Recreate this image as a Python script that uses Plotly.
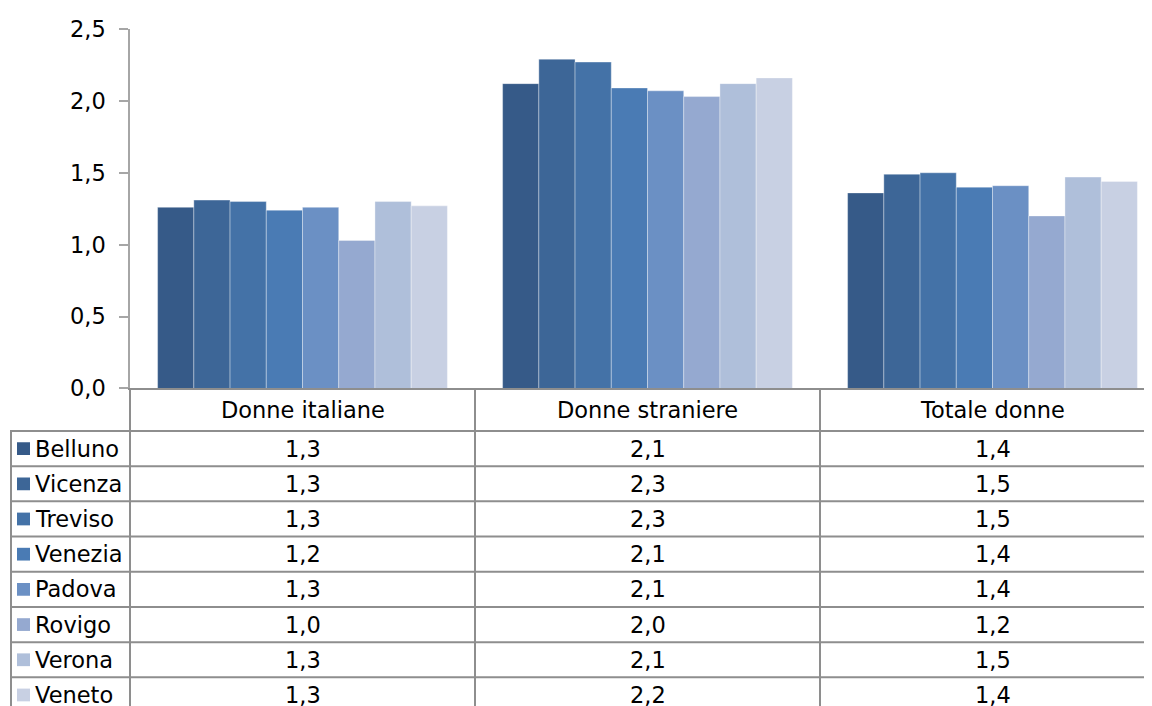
import plotly.graph_objects as go

categories = ['Donne italiane', 'Donne straniere', 'Totale donne']
provinces = ['Belluno', 'Vicenza', 'Treviso', 'Venezia', 'Padova', 'Rovigo', 'Verona', 'Veneto']

belluno = [1.26, 2.12, 1.36]
vicenza = [1.31, 2.29, 1.49]
treviso = [1.30, 2.27, 1.50]
venezia = [1.24, 2.09, 1.40]
padova = [1.26, 2.07, 1.41]
rovigo = [1.03, 2.03, 1.20]
verona = [1.30, 2.12, 1.47]
veneto = [1.27, 2.16, 1.44]
series = [belluno, vicenza, treviso, venezia, padova, rovigo, verona, veneto]

colors = ['#365A88', '#3D6697', '#4472A7', '#4A7BB4', '#6B90C4',
          '#95A9D0', '#AFBFDA', '#C8D0E3']

# page has an 8px body margin; the snapshot squeezes the page slightly in height
OFF = 8
S = 0.9806


def fx(x):
    return x - OFF


def fy(y):
    return y / S - OFF


W = 1152 - OFF
H = round(706 / S) - OFF
TOP = fy(28)
AXIS_Y = fy(387.5)      # category axis line
PLOT_L = fx(130)        # value axis
CAT_W = 345             # width of one category column
HEADER_H = 42.5 / S
ROW_H = 35.2 / S
SQ = 13
GRID = '#8E8E8E'
FONT = 'DejaVu Sans'
FS = 22.5

split = (H - AXIS_Y) / (H - TOP)
table_h = H - AXIS_Y
x_max = -0.5 + (W - PLOT_L) / CAT_W


def fmt(v):
    return f'{v:.1f}'.replace('.', ',')


fig = go.Figure()
for name, vals, col in zip(provinces, series, colors):
    fig.add_trace(go.Bar(
        x=categories, y=vals, name=name,
        marker=dict(color=col, line=dict(color='rgba(255,255,255,0.35)', width=1)),
        showlegend=False
    ))

# empty trace so the table subplot exists
fig.add_trace(go.Scatter(x=categories, y=[None] * 3, xaxis='x', yaxis='y2',
                         mode='markers', showlegend=False, hoverinfo='skip'))

shapes = []
annotations = []

# horizontal table lines
for k in range(len(provinces) + 1):
    y = HEADER_H + ROW_H * k
    shapes.append(dict(type='line', xref='paper', yref='y2', x0=fx(10) / W, x1=1,
                       y0=y, y1=y, line=dict(color=GRID, width=2)))
# left border of legend column
shapes.append(dict(type='line', xref='paper', yref='y2', x0=fx(11) / W, x1=fx(11) / W,
                   y0=HEADER_H, y1=table_h, line=dict(color=GRID, width=2)))
# vertical line under value axis
shapes.append(dict(type='line', xref='paper', yref='y2', x0=PLOT_L / W, x1=PLOT_L / W,
                   y0=0, y1=table_h, line=dict(color=GRID, width=2)))
# column dividers at category boundaries
for b in [0.5, 1.5]:
    shapes.append(dict(type='line', xref='x', yref='y2', x0=b, x1=b,
                       y0=0, y1=table_h, line=dict(color=GRID, width=2)))

# header labels
for cat in categories:
    annotations.append(dict(x=cat, y=HEADER_H / 2, xref='x', yref='y2', text=cat,
                            showarrow=False, font=dict(family=FONT, size=FS, color='black')))

# rows
for i, (name, vals, col) in enumerate(zip(provinces, series, colors)):
    yc = HEADER_H + ROW_H * (i + 0.5)
    shapes.append(dict(type='rect', xref='paper', yref='y2', x0=fx(17) / W, x1=fx(30) / W,
                       y0=yc - SQ / 2, y1=yc + SQ / 2, fillcolor=col, line=dict(width=0)))
    annotations.append(dict(x=fx(33) / W, y=yc, xref='paper', yref='y2', text=name,
                            xanchor='left', showarrow=False,
                            font=dict(family=FONT, size=FS, color='black')))
    for cat, v in zip(categories, vals):
        annotations.append(dict(x=cat, y=yc, xref='x', yref='y2', text=fmt(v),
                                showarrow=False,
                                font=dict(family=FONT, size=FS, color='black')))

fig.update_layout(
    width=W, height=H,
    margin=dict(l=0, r=0, t=TOP, b=0),
    paper_bgcolor='white', plot_bgcolor='white',
    barmode='group', bargap=0.16, bargroupgap=0,
    separators=',.',
    font=dict(family=FONT, size=FS, color='black'),
    xaxis=dict(domain=[PLOT_L / W, 1], range=[-0.5, x_max], anchor='y',
               showticklabels=False, ticks='', showgrid=False, zeroline=False,
               showline=True, linecolor=GRID, linewidth=2),
    yaxis=dict(domain=[split, 1], range=[0, 2.5], anchor='x',
               tickvals=[0, 0.5, 1, 1.5, 2, 2.5], tickformat='.1f',
               ticks='outside', ticklen=9, tickcolor='#A6A6A6', tickwidth=1.5,
               ticklabelstandoff=9,
               showline=True, linecolor='#A6A6A6', linewidth=1.5,
               showgrid=False, zeroline=False,
               tickfont=dict(family=FONT, size=FS, color='black')),
    yaxis2=dict(domain=[0, split], range=[table_h, 0], anchor='x',
                visible=False),
    shapes=shapes,
    annotations=annotations,
)

fig.write_html('out.html', config={'displayModeBar': False})
